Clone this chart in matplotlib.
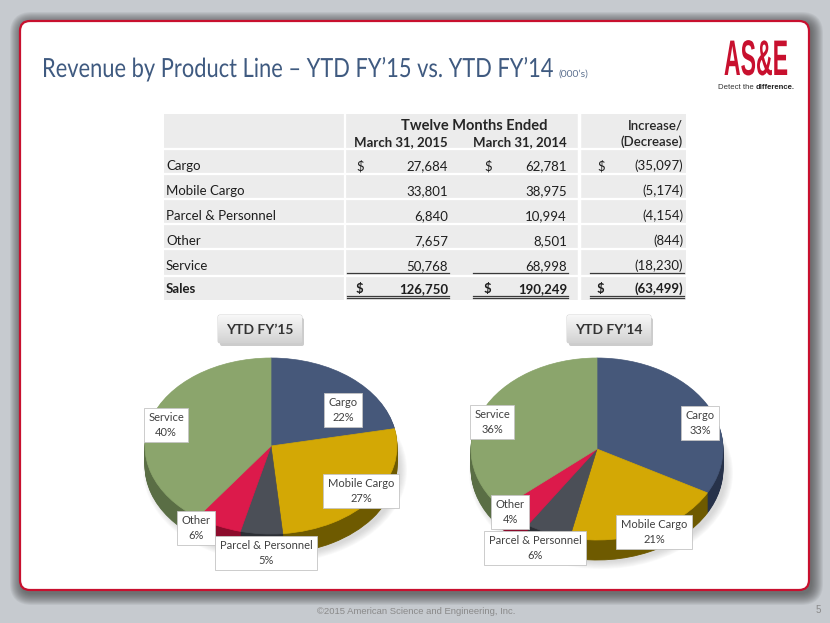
import numpy as np
import matplotlib
matplotlib.use('Agg')
import matplotlib.pyplot as plt
from matplotlib.patches import FancyBboxPatch, Rectangle, Ellipse
from matplotlib.colors import LinearSegmentedColormap
from matplotlib import font_manager
import matplotlib.patheffects as pe
from matplotlib.transforms import Affine2D

# ---------------- data ----------------
categories = ['Cargo', 'Mobile Cargo', 'Parcel & Personnel', 'Other', 'Service']
fy15 = [27684, 33801, 6840, 7657, 50768]
fy14 = [62781, 38975, 10994, 8501, 68998]
change = [-35097, -5174, -4154, -844, -18230]
total_label = 'Sales'
total15 = 126750
total14 = 190249
total_change = -63499
pct15 = [22, 27, 5, 6, 40]
pct14 = [33, 21, 6, 4, 36]
pie_titles = ['YTD FY\u201915', 'YTD FY\u201914']
col_header_top = 'Twelve Months Ended'
col_headers = ['March 31, 2015', 'March 31, 2014']
chg_header = ['Increase/', '(Decrease)']
title = 'Revenue by Product Line \u2013 YTD FY\u201915 vs. YTD FY\u201914'
title_unit = '(000\u2019s)'
footer = '\u00a92015 American Science and Engineering, Inc.'
page_no = '5'

# ---------------- fonts ----------------
names = {f.name for f in font_manager.fontManager.ttflist}
BODY = 'Lato' if 'Lato' in names else 'DejaVu Sans'
NARROW = 'Liberation Sans Narrow' if 'Liberation Sans Narrow' in names else (
    'Liberation Sans' if 'Liberation Sans' in names else 'DejaVu Sans')
plt.rcParams['font.family'] = [BODY, 'DejaVu Sans']

W, H = 830, 623
fig = plt.figure(figsize=(W / 100, H / 100), dpi=100)
fig.patch.set_facecolor('#c6cacf')

bg = fig.add_axes([0, 0, 1, 1], zorder=0)
bg.set_xlim(0, W); bg.set_ylim(H, 0); bg.axis('off')

ov = fig.add_axes([0, 0, 1, 1], zorder=10)
ov.set_xlim(0, W); ov.set_ylim(H, 0); ov.axis('off')
ov.patch.set_alpha(0)


class VStretch(pe.AbstractPathEffect):
    """Stretch text vertically around its baseline."""
    def __init__(self, sy):
        super().__init__()
        self.sy = sy

    def draw_path(self, renderer, gc, tpath, affine, rgbFace=None):
        ox, oy = affine.transform((0, 0))
        aff = affine + Affine2D().translate(-ox, -oy).scale(1, self.sy).translate(ox, oy)
        renderer.draw_path(gc, tpath, aff, rgbFace)


renderer = fig.canvas.get_renderer()


def fit_text(x, y, s, width, cap, ha='left', **kw):
    t = ov.text(x, y, s, ha=ha, va='baseline', fontsize=10, **kw)
    w = t.get_window_extent(renderer).width
    fs = 10 * width / w
    t.set_fontsize(fs)
    cap_now = fs * 100 / 72 * 0.72
    t.set_path_effects([VStretch(cap / cap_now)])
    return t

# ---------------- slide panel ----------------
px0, py0, px1, py1 = 20, 21, 809, 590
for i in range(12, 0, -1):
    bg.add_patch(FancyBboxPatch((px0 - i + 2, py0 - i + 3),
                                (px1 - px0) + 2 * i, (py1 - py0) + 2 * i,
                                boxstyle='round,pad=0,rounding_size=%d' % (10 + i),
                                fc='#3c3c3c', ec='none', alpha=0.075))
bg.add_patch(FancyBboxPatch((px0, py0), px1 - px0, py1 - py0,
                            boxstyle='round,pad=0,rounding_size=10',
                            fc='white', ec='#c8102e', lw=1.6))

# ---------------- title ----------------
t_title = fit_text(42, 77, title, 510, 19, color='#3f5a80', fontweight='normal')
ov.text(558, 77, title_unit, ha='left', va='baseline', fontsize=7.5,
        color='#5d7190')

# ---------------- logo ----------------
fit_text(756, 75, 'AS&E', 64, 36, ha='center', color='#c8102e',
         fontweight='bold', family=[NARROW, 'DejaVu Sans'])
t1 = ov.text(718, 89, 'Detect the ', ha='left', va='baseline', fontsize=5.6,
             color='#333333', family=[NARROW, 'DejaVu Sans'])
b1 = t1.get_window_extent(renderer)
ov.text(718 + b1.width, 89, 'difference.', ha='left', va='baseline', fontsize=5.6,
        color='#222222', fontweight='bold', family=[NARROW, 'DejaVu Sans'])

# ---------------- table ----------------
TL, TR, TT, TB = 164, 686, 114, 300
ov.add_patch(Rectangle((TL, TT), TR - TL, TB - TT, fc='#ececec', ec='none', zorder=1))
row_bounds = [149, 174, 199, 224, 249, 276]
for yb in row_bounds:
    ov.plot([TL, TR], [yb, yb], color='white', lw=1.6, zorder=2, solid_capstyle='butt')
ov.plot([345, 345], [TT, TB], color='white', lw=1.6, zorder=2)
ov.plot([579, 579], [TT, TB], color='white', lw=2.5, zorder=2)

FS = 9.5
TXT = '#1e1e1e'
x_label = 166
x_dollar = [356, 484, 597]
x_right = [448, 567, 683]

ov.text(474, 126, col_header_top, ha='center', va='center', fontsize=10.5,
        fontweight='bold', color='#262626', zorder=3)
for xr, s in zip(x_right[:2], col_headers):
    ov.text(xr, 142, s, ha='right', va='center', fontsize=FS, fontweight='bold',
            color='#262626', zorder=3)
ov.text(x_right[2], 126, chg_header[0], ha='right', va='center', fontsize=FS,
        fontweight='semibold', color='#262626', zorder=3)
ov.text(x_right[2], 142, chg_header[1], ha='right', va='center', fontsize=FS,
        fontweight='semibold', color='#262626', zorder=3)


def fmt(v):
    return '({:,})'.format(-v) if v < 0 else '{:,}'.format(v)


row_y = [166, 191, 216, 241, 266]
for i, cat in enumerate(categories):
    y = row_y[i]
    ov.text(x_label, y, cat, ha='left', va='center', fontsize=FS, color=TXT, zorder=3)
    for j, v in enumerate([fy15[i], fy14[i], change[i]]):
        ov.text(x_right[j], y, fmt(v), ha='right', va='center', fontsize=FS,
                color=TXT, zorder=3)
        if i == 0:
            ov.text(x_dollar[j], y, '$', ha='left', va='center', fontsize=FS,
                    color=TXT, zorder=3)

sy = 289
ov.text(x_label, sy, total_label, ha='left', va='center', fontsize=FS,
        fontweight='bold', color=TXT, zorder=3)
for j, v in enumerate([total15, total14, total_change]):
    ov.text(x_right[j], sy, fmt(v), ha='right', va='center', fontsize=FS,
            fontweight='bold', color=TXT, zorder=3)
    ov.text(x_dollar[j], sy, '$', ha='left', va='center', fontsize=FS,
            fontweight='bold', color=TXT, zorder=3)

line_spans = [(347, 449), (473, 568), (590, 684)]
for a, b in line_spans:
    ov.plot([a, b], [273, 273], color='#3a3a3a', lw=0.9, zorder=3)
    ov.plot([a, b], [295.5, 295.5], color='#3a3a3a', lw=0.9, zorder=3)
    ov.plot([a, b], [298.3, 298.3], color='#3a3a3a', lw=0.9, zorder=3)

# ---------------- pies ----------------
top_colors = ['#46587a', '#d3a805', '#4b4f57', '#dc1a4b', '#8ba56c']
side_colors = ['#27324a', '#6e5a00', '#2c2f35', '#8c0c2c', '#5a6e45']


def draw_pie(cx, cy, rx, ry, depth, values):
    ax = fig.add_axes([(cx - rx) / W, 1 - (cy + ry + depth) / H,
                       2 * rx / W, (2 * ry + depth) / H], zorder=5)
    ax.patch.set_alpha(0)
    n = int(depth)
    for k in range(n, 0, -1):
        wedges, _ = ax.pie(values, colors=side_colors, startangle=90,
                           counterclock=False, center=(0, -k / ry), radius=1,
                           wedgeprops=dict(linewidth=0.6))
        for w in wedges:
            w.set_edgecolor(w.get_facecolor())
    wedges, _ = ax.pie(values, colors=top_colors, startangle=90,
                       counterclock=False, center=(0, 0), radius=1,
                       wedgeprops=dict(linewidth=0.5))
    for w in wedges:
        w.set_edgecolor(w.get_facecolor())
    ax.set_aspect('auto')
    ax.set_xlim(-1, 1)
    ax.set_ylim(-1 - depth / ry, 1)
    ax.axis('off')
    return ax


pie_geom = [(271, 446, 126, 88, 20), (597, 449, 126, 91, 20)]
for (cx, cy, rx, ry, d) in pie_geom:
    for i in range(8):
        bg.add_patch(Ellipse((cx + 4, cy + d + 4), 2 * rx + 12 - i * 2, 2 * ry + 10 - i * 2,
                             fc='#9a9a9a', ec='none', alpha=0.05))

draw_pie(*pie_geom[0], fy15)
draw_pie(*pie_geom[1], fy14)

# pie title boxes
grad_cmap = LinearSegmentedColormap.from_list('g', ['#f8f8f8', '#d2d2d2'])
title_boxes = [(218, 315, 84, 28), (567, 315, 84, 28)]
for (x0, y0, w, h), s in zip(title_boxes, pie_titles):
    ov.add_patch(FancyBboxPatch((x0 + 2, y0 + 3), w, h,
                                boxstyle='round,pad=0,rounding_size=2',
                                fc='#8f8f8f', ec='none', alpha=0.45, zorder=6))
    box = FancyBboxPatch((x0, y0), w, h, boxstyle='round,pad=0,rounding_size=2',
                         fc='#e6e6e6', ec='#cfcfcf', lw=0.6, zorder=7)
    ov.add_patch(box)
    im = ov.imshow(np.linspace(0, 1, 64).reshape(-1, 1), extent=(x0, x0 + w, y0 + h, y0),
                   cmap=grad_cmap, aspect='auto', origin='upper', zorder=7.5)
    im.set_clip_path(box)
    ov.text(x0 + w / 2, y0 + h / 2 + 1, s, ha='center', va='center', fontsize=10,
            fontweight='bold', color='#333333', zorder=8)
ov.set_xlim(0, W); ov.set_ylim(H, 0)

# data labels
label_pos15 = [(343, 410), (361, 491), (266, 553), (196, 528), (166, 425)]
label_pos14 = [(700, 423), (654, 532), (535, 548), (510, 512), (492, 422)]
for positions, pcts in ((label_pos15, pct15), (label_pos14, pct14)):
    for (x, y), cat, p in zip(positions, categories, pcts):
        ov.text(x, y, '%s\n%d%%' % (cat, p), ha='center', va='center', fontsize=8,
                color='#404040', linespacing=1.35, zorder=9,
                bbox=dict(boxstyle='square,pad=0.4', fc='white', ec='#c4c4c4', lw=0.6))

# ---------------- footer ----------------
ov.text(416, 614, footer, ha='center', va='baseline', fontsize=6.8, color='#8a8a8a',
        family=[NARROW, 'DejaVu Sans'])
ov.text(818, 613, page_no, ha='center', va='baseline', fontsize=7, color='#8a8a8a',
        family=[NARROW, 'DejaVu Sans'])

fig.savefig('out.png', dpi=100, facecolor=fig.get_facecolor())
